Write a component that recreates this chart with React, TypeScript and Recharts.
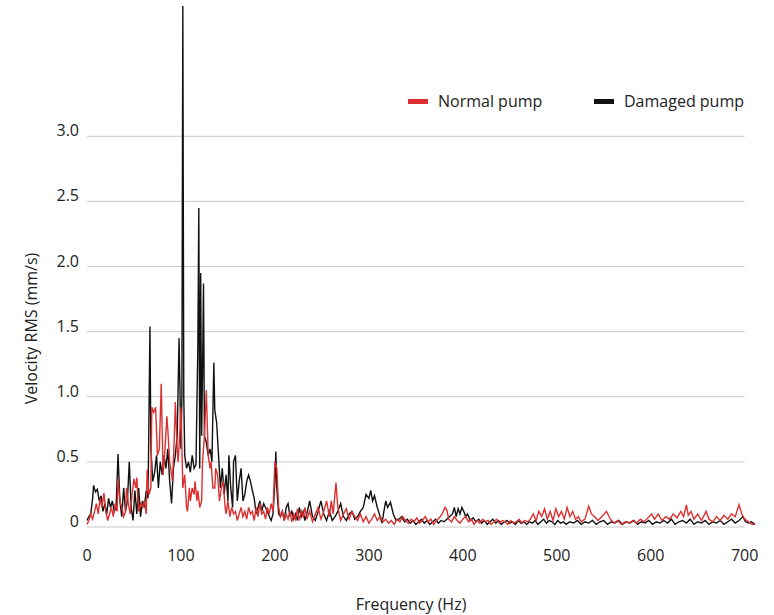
import React from "react";
import { LineChart, Line, XAxis, YAxis, ReferenceLine, Legend, Label } from "recharts";

const damagedFreq = [0,2,4,6,7,9,11,13,15,17,19,21,23,25,27,29,31,33,35,37,39,41,43,45,47,49,51,53,55,57,59,61,63,65,67,68,70,72,74,76,78,80,82,84,86,88,90,92,94,96,98,100,101,102,103,104,106,108,110,112,114,116,118,119,120,121,122,123,124,125,127,129,131,133,135,136,138,140,142,144,146,148,150,151,153,155,156,158,160,162,164,166,168,170,172,174,176,178,180,182,184,186,188,190,192,194,196,198,200,201,202,204,206,208,210,212,214,216,218,220,222,224,226,228,230,232,234,237,240,243,246,249,252,255,258,261,264,267,270,273,276,279,282,285,288,291,294,297,300,302,304,306,309,312,314,316,318,320,323,326,329,332,335,338,341,344,347,350,353,356,359,362,365,368,371,374,377,380,383,386,389,391,393,395,397,399,401,403,405,408,411,414,417,420,423,426,429,432,435,438,441,444,447,450,453,456,459,462,465,468,471,474,477,480,483,486,489,492,495,498,501,504,507,510,514,518,522,526,530,534,538,542,546,550,554,558,562,566,570,574,578,582,586,590,594,598,602,606,610,614,618,622,626,630,634,638,642,646,650,654,658,662,666,670,674,678,682,686,690,694,698,701,704,707,711];
const damagedVel = [0.05,0.08,0.1,0.22,0.32,0.27,0.29,0.2,0.24,0.12,0.18,0.1,0.22,0.15,0.2,0.12,0.15,0.56,0.2,0.08,0.3,0.12,0.2,0.5,0.15,0.05,0.28,0.1,0.3,0.08,0.2,0.15,0.28,0.22,1.54,0.6,0.35,0.42,0.55,0.3,0.5,0.4,0.55,0.45,0.6,0.35,0.18,0.45,0.55,0.7,1.45,0.6,1.0,4.0,1.0,0.55,0.45,0.5,0.42,0.55,0.45,0.48,1.4,2.45,0.45,1.95,0.7,1.2,1.87,0.7,0.65,0.55,0.6,0.5,1.26,0.9,0.8,0.55,0.3,0.45,0.25,0.4,0.2,0.55,0.3,0.15,0.5,0.55,0.2,0.35,0.45,0.2,0.25,0.35,0.4,0.35,0.28,0.22,0.1,0.15,0.2,0.12,0.18,0.15,0.12,0.08,0.05,0.1,0.35,0.58,0.3,0.1,0.08,0.12,0.05,0.15,0.18,0.08,0.12,0.06,0.1,0.05,0.15,0.08,0.12,0.05,0.1,0.2,0.08,0.05,0.12,0.2,0.1,0.05,0.12,0.05,0.08,0.12,0.18,0.08,0.05,0.1,0.12,0.06,0.08,0.12,0.15,0.25,0.22,0.28,0.2,0.24,0.15,0.08,0.03,0.12,0.2,0.15,0.19,0.1,0.05,0.06,0.08,0.04,0.06,0.03,0.05,0.02,0.04,0.06,0.03,0.05,0.02,0.04,0.06,0.03,0.05,0.04,0.06,0.08,0.1,0.15,0.08,0.14,0.1,0.15,0.12,0.08,0.1,0.05,0.07,0.04,0.06,0.03,0.05,0.02,0.04,0.06,0.03,0.05,0.02,0.04,0.05,0.03,0.04,0.02,0.05,0.03,0.04,0.02,0.04,0.03,0.05,0.02,0.04,0.06,0.03,0.05,0.04,0.02,0.05,0.03,0.04,0.02,0.04,0.03,0.05,0.02,0.04,0.03,0.05,0.02,0.04,0.05,0.02,0.04,0.03,0.05,0.02,0.04,0.03,0.05,0.02,0.04,0.03,0.05,0.02,0.04,0.03,0.05,0.03,0.06,0.02,0.04,0.05,0.03,0.06,0.02,0.04,0.03,0.05,0.02,0.04,0.03,0.05,0.02,0.04,0.06,0.03,0.05,0.08,0.04,0.03,0.04,0.02];

const normalFreq = [0,2,4,6,8,10,12,14,16,18,20,22,24,26,28,30,32,33,35,37,39,41,42,44,46,48,50,52,53,55,57,59,61,63,64,66,68,69,71,73,75,77,79,81,83,85,86,88,90,91,93,94,96,97,99,100,102,104,106,107,109,110,112,114,115,117,118,120,122,123,125,127,129,131,132,134,136,137,139,141,143,145,147,148,150,152,154,156,158,160,162,164,166,168,170,172,174,176,178,180,182,184,186,188,190,192,194,196,198,200,202,204,206,208,210,212,214,216,218,220,222,224,226,228,230,232,234,237,240,243,246,249,252,255,258,260,262,265,267,270,273,276,279,282,285,288,291,294,297,300,303,306,309,312,315,318,321,324,327,330,333,336,339,342,345,348,351,354,357,360,363,366,369,372,375,378,381,383,385,388,391,394,397,400,403,406,409,412,415,418,421,424,427,430,433,436,439,442,445,448,451,454,457,460,463,466,469,472,475,478,481,484,487,490,493,496,499,502,505,508,511,514,517,520,523,526,530,534,537,540,544,548,553,557,561,565,569,573,577,581,585,589,593,597,601,604,608,612,616,620,624,628,632,635,638,640,643,646,650,654,659,662,666,670,674,678,682,686,690,694,697,700,704,708,711];
const normalVel = [0.02,0.05,0.1,0.06,0.12,0.18,0.1,0.22,0.15,0.26,0.12,0.05,0.1,0.15,0.08,0.18,0.12,0.37,0.2,0.15,0.08,0.12,0.3,0.18,0.1,0.25,0.37,0.3,0.38,0.12,0.18,0.15,0.2,0.1,0.44,0.25,0.3,0.92,0.88,0.92,0.55,0.6,1.1,0.4,0.6,0.85,0.75,0.5,0.4,0.35,0.7,0.96,0.6,0.5,0.75,0.92,0.3,0.4,0.15,0.12,0.3,0.2,0.3,0.25,0.35,0.2,0.28,0.15,0.2,0.5,0.7,1.05,0.55,0.45,0.5,0.3,0.3,0.45,0.4,0.2,0.3,0.35,0.15,0.1,0.2,0.08,0.15,0.1,0.12,0.05,0.1,0.15,0.08,0.12,0.06,0.15,0.1,0.12,0.05,0.15,0.08,0.18,0.1,0.12,0.06,0.15,0.1,0.18,0.12,0.5,0.45,0.15,0.08,0.12,0.05,0.1,0.06,0.12,0.04,0.1,0.06,0.14,0.05,0.12,0.08,0.15,0.06,0.12,0.04,0.1,0.15,0.06,0.12,0.2,0.08,0.2,0.1,0.34,0.15,0.05,0.1,0.14,0.06,0.12,0.08,0.05,0.1,0.04,0.08,0.03,0.06,0.1,0.05,0.08,0.04,0.06,0.03,0.05,0.02,0.06,0.04,0.08,0.05,0.03,0.06,0.04,0.07,0.03,0.05,0.08,0.04,0.06,0.02,0.05,0.07,0.1,0.15,0.13,0.06,0.04,0.08,0.05,0.03,0.06,0.08,0.04,0.06,0.02,0.05,0.03,0.06,0.04,0.05,0.02,0.04,0.06,0.03,0.05,0.04,0.02,0.05,0.03,0.04,0.06,0.03,0.05,0.04,0.06,0.1,0.05,0.12,0.08,0.14,0.06,0.12,0.05,0.14,0.08,0.12,0.06,0.15,0.08,0.12,0.06,0.08,0.04,0.06,0.16,0.1,0.08,0.05,0.08,0.12,0.06,0.03,0.05,0.02,0.04,0.03,0.05,0.03,0.06,0.04,0.07,0.1,0.06,0.1,0.05,0.08,0.06,0.1,0.07,0.12,0.08,0.17,0.09,0.12,0.06,0.1,0.05,0.12,0.06,0.04,0.08,0.05,0.09,0.06,0.1,0.08,0.17,0.1,0.06,0.04,0.02,0.02];

const xTicks = [0, 100, 200, 300, 400, 500, 600, 700];
const yTicks = [0, 0.5, 1.0, 1.5, 2.0, 2.5, 3.0];
const seriesNames = ["Normal pump", "Damaged pump"];

const RED = "#dc2f2f";
const BLACK = "#111111";
const GRID = "#c8c8c8";
const FONT = "'Open Sans', 'Noto Sans', sans-serif";
const TEXT = "#222222";
const FS = 16;

const damagedData = damagedFreq.map((f, i) => ({ f, v: damagedVel[i] }));
const normalData = normalFreq.map((f, i) => ({ f, v: normalVel[i] }));

const YTick = (props: any) => {
  const { x, y, payload } = props;
  const v = payload.value;
  return (
    <text x={x} y={y} textAnchor="end" fill={TEXT} fontSize={FS} fontFamily={FONT}>
      {v === 0 ? "0" : v.toFixed(1)}
    </text>
  );
};

const XTick = (props: any) => {
  const { x, y, payload } = props;
  return (
    <text x={x} y={y} dy="0.71em" textAnchor="middle" fill={TEXT} fontSize={FS} fontFamily={FONT}>
      {payload.value}
    </text>
  );
};

const YLabel = (props: any) => {
  const vb = props.viewBox || {};
  const cx = 31;
  const cy = vb.y + vb.height / 2 + 62;
  return (
    <text x={cx} y={cy} transform={`rotate(-90, ${cx}, ${cy})`} textAnchor="middle" dominantBaseline="central" fill={TEXT} fontSize={FS} fontFamily={FONT}>
      Velocity RMS (mm/s)
    </text>
  );
};

const XLabel = (props: any) => {
  const vb = props.viewBox || {};
  return (
    <text x={411} y={vb.y + 83} textAnchor="middle" fill={TEXT} fontSize={FS} fontFamily={FONT}>
      Frequency (Hz)
    </text>
  );
};

const LegendContent = () => (
  <div style={{ display: "flex", alignItems: "center", fontFamily: FONT, fontSize: FS, color: TEXT, lineHeight: "18px" }}>
    <div style={{ display: "flex", alignItems: "center", width: 186 }}>
      <span style={{ display: "inline-block", width: 20, height: 5, background: RED, marginRight: 10 }} />
      <span>{seriesNames[0]}</span>
    </div>
    <div style={{ display: "flex", alignItems: "center" }}>
      <span style={{ display: "inline-block", width: 20, height: 5, background: BLACK, marginRight: 10 }} />
      <span>{seriesNames[1]}</span>
    </div>
  </div>
);

export default function App() {
  return (
    <div style={{ position: "absolute", left: 0, top: 0, width: 774, height: 615, background: "#fff" }}>
      <LineChart width={774} height={615} margin={{ top: 6, right: 19, bottom: 28, left: 27 }}>
        <XAxis
          type="number"
          dataKey="f"
          domain={[0, 711]}
          ticks={xTicks}
          axisLine={false}
          tickLine={false}
          tickMargin={17}
          tick={<XTick />}
          height={60}
          allowDuplicatedCategory={false}
        >
          <Label content={<XLabel />} />
        </XAxis>
        <YAxis
          type="number"
          domain={[0, 4]}
          ticks={yTicks}
          axisLine={false}
          tickLine={false}
          tick={<YTick />}
          width={60}
        >
          <Label content={<YLabel />} />
        </YAxis>
        {yTicks.map((t) => (
          <ReferenceLine key={t} segment={[{ x: 0, y: t }, { x: 700, y: t }]} stroke={GRID} strokeWidth={1} />
        ))}
        <Legend verticalAlign="middle" layout="horizontal" content={<LegendContent />} wrapperStyle={{ position: "absolute", top: 92, left: 408, width: 360 }} />
        <Line data={damagedData} dataKey="v" name={seriesNames[1]} stroke={BLACK} strokeWidth={1.4} dot={false} isAnimationActive={false} type="linear" />
        <Line data={normalData} dataKey="v" name={seriesNames[0]} stroke={RED} strokeWidth={1.4} dot={false} isAnimationActive={false} type="linear" />
      </LineChart>
    </div>
  );
}
